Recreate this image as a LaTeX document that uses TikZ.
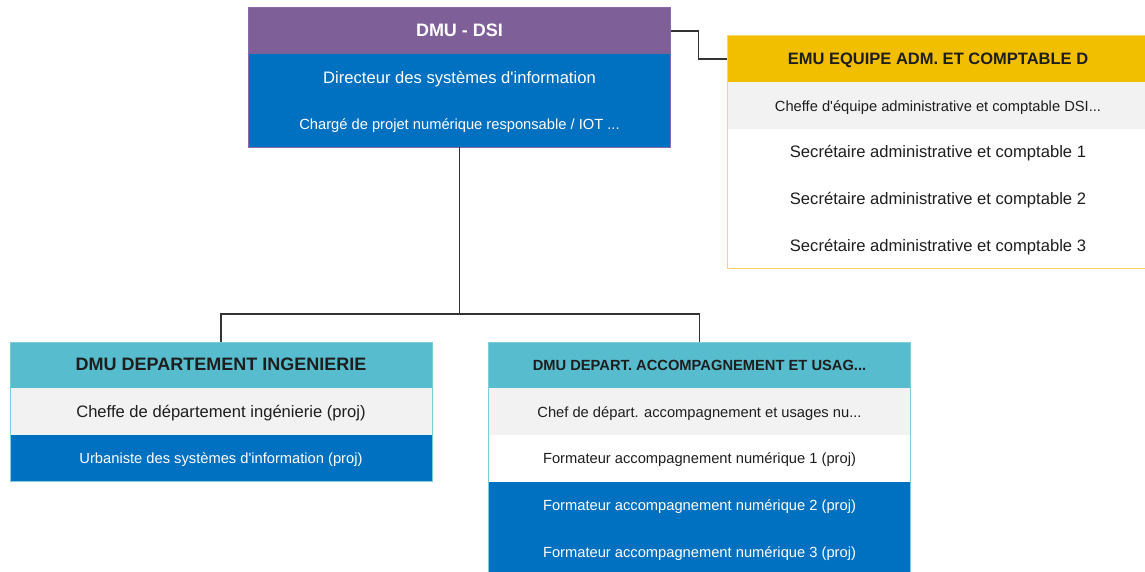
\documentclass[tikz,border=0pt]{standalone}
\usepackage{fontspec}
\usetikzlibrary{positioning}
\newfontfamily\orgfont{Liberation Sans}
\definecolor{dsipurple}{HTML}{7F5F97}
\definecolor{rowblue}{HTML}{0070C0}
\definecolor{hdteal}{HTML}{56BCCE}
\definecolor{hdyellow}{HTML}{F2BE00}
\definecolor{rowgrey}{HTML}{F2F2F2}
\definecolor{tealedge}{HTML}{7CCCDB}
\definecolor{yellowedge}{HTML}{F8D766}
\definecolor{purpleedge}{HTML}{8A6AA8}
\definecolor{txtdark}{HTML}{1E1E1E}
\definecolor{linkgrey}{HTML}{333333}
\newcommand\rowbig{\orgfont\fontsize{16.6}{19}\selectfont}
\newcommand\rowsmall{\orgfont\fontsize{14.7}{17}\selectfont}
\newcommand\hdbig{\orgfont\bfseries\fontsize{18}{21}\selectfont}
\newcommand\hdmid{\orgfont\bfseries\fontsize{16.5}{19}\selectfont}
\newcommand\hdsmall{\orgfont\bfseries\fontsize{14.7}{17}\selectfont}

\begin{document}
\begin{tikzpicture}[x=1pt, y=-1pt,
        cell/.style={minimum width=422pt, minimum height=46.6pt, inner sep=0pt, outer sep=0pt,
            text height=11.5pt, text depth=0pt, text=txtdark},
        bluecell/.style={cell, fill=rowblue, text=white},
        greycell/.style={cell, fill=rowgrey},
        whitecell/.style={cell, fill=white},
        link/.style={draw=linkgrey, line width=1.1pt}]
    \useasboundingbox (0,0) rectangle (1145,572);

    % direction DSI
    \node[cell, fill=dsipurple, text=white, font=\hdbig] (dsi) at (459.5,31) {DMU - DSI};
    \node[bluecell, font=\rowbig, below=0pt of dsi] (dsi1) {Directeur des systèmes d'information};
    \node[bluecell, font=\rowsmall, below=0pt of dsi1] (dsi2) {Chargé de projet numérique responsable / IOT ...};
    \draw[purpleedge] (dsi.north west) rectangle (dsi2.south east);

    % equipe administrative
    \node[cell, fill=hdyellow, font=\hdmid] (emu) at (938,59) {EMU EQUIPE ADM. ET COMPTABLE D};
    \node[greycell, font=\rowsmall, below=0pt of emu] (emu1) {Cheffe d'équipe administrative et comptable DSI...};
    \node[whitecell, font=\rowbig, below=0pt of emu1] (emu2) {Secrétaire administrative et comptable 1};
    \node[whitecell, font=\rowbig, below=0pt of emu2] (emu3) {Secrétaire administrative et comptable 2};
    \node[whitecell, font=\rowbig, below=0pt of emu3] (emu4) {Secrétaire administrative et comptable 3};
    \draw[yellowedge, line width=1pt] (emu.north west) rectangle (emu4.south east);

    % departement ingenierie
    \node[cell, fill=hdteal, font=\hdbig] (ing) at (221,365) {DMU DEPARTEMENT INGENIERIE};
    \node[greycell, font=\rowbig, below=0pt of ing] (ing1) {Cheffe de département ingénierie (proj)};
    \node[bluecell, font=\rowsmall, below=0pt of ing1] (ing2) {Urbaniste des systèmes d'information (proj)};
    \draw[tealedge] (ing.north west) rectangle (ing2.south east);

    % departement accompagnement
    \node[cell, fill=hdteal, font=\hdsmall] (acc) at (699.5,365) {DMU DEPART. ACCOMPAGNEMENT ET USAG...};
    \node[greycell, font=\rowsmall, below=0pt of acc] (acc1) {Chef de départ. accompagnement et usages nu...};
    \node[whitecell, font=\rowsmall, below=0pt of acc1] (acc2) {Formateur accompagnement numérique 1 (proj)};
    \node[bluecell, font=\rowsmall, below=0pt of acc2] (acc3) {Formateur accompagnement numérique 2 (proj)};
    \node[bluecell, font=\rowsmall, below=0pt of acc3] (acc4) {Formateur accompagnement numérique 3 (proj)};
    \draw[tealedge] (acc.north west) rectangle (acc4.south east);

    % liens
    \draw[link] (dsi.east) -- ++(28,0) |- (emu.west);
    \coordinate (fork) at (459.5,314);
    \draw[link] (dsi2.south) -- (fork);
    \draw[link] (ing.north) |- (fork) -| (acc.north);
\end{tikzpicture}
\end{document}
